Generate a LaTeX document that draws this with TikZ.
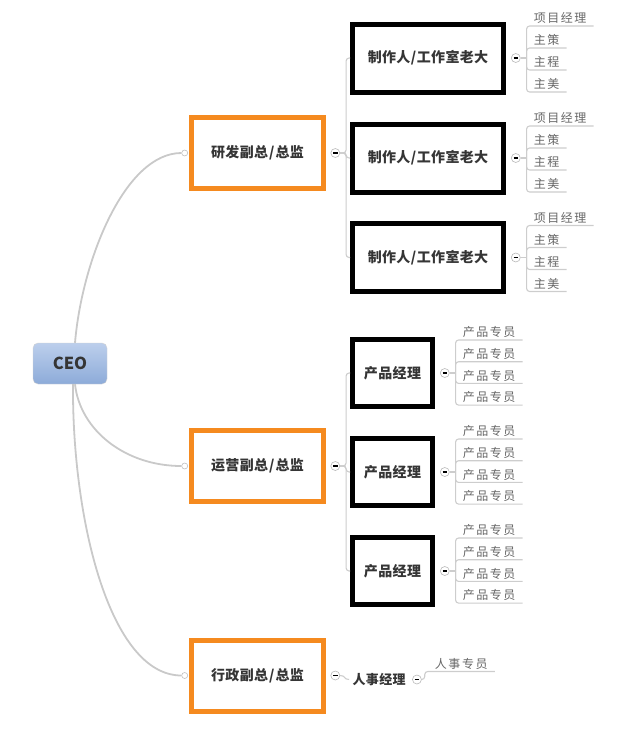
\documentclass[tikz,border=0pt]{standalone}
\usepackage{fontspec}
\setmainfont{Noto Sans CJK SC}
\newfontfamily\boxfont{Noto Sans CJK SC}[LetterSpace=2.5]
\newfontfamily\leaffont{Noto Sans CJK SC}[LetterSpace=13]
\usetikzlibrary{positioning,calc}

\definecolor{vporange}{HTML}{F58A1F}
\definecolor{wiregray}{HTML}{C9C9C9}
\definecolor{twiggray}{HTML}{CDCDCD}
\definecolor{ceotop}{HTML}{BCCFEC}
\definecolor{ceobot}{HTML}{8DABD9}
\definecolor{inkgray}{HTML}{353535}
\definecolor{leafgray}{HTML}{666666}

\begin{document}
\begin{tikzpicture}[
  x=1pt, y=1pt,
  every node/.style={text=inkgray},
  ceo/.style={draw=gray!35, rounded corners=5pt, top color=ceotop,
    bottom color=ceobot, minimum width=74pt, minimum height=41pt,
    font=\fontsize{16.5}{18}\selectfont\bfseries},
  vpbox/.style={draw=vporange, line width=5pt, minimum width=132pt,
    minimum height=71pt, font=\boxfont\fontsize{14}{16}\selectfont\bfseries},
  leadbox/.style={draw=black, line width=5pt, minimum width=151pt,
    minimum height=68pt, font=\boxfont\fontsize{14}{16}\selectfont\bfseries},
  pmbox/.style={leadbox, minimum width=80pt, minimum height=67pt},
  hrname/.style={font=\boxfont\fontsize{13}{15}\selectfont\bfseries},
  fold/.style={circle, draw=gray!55, fill=white, line width=0.6pt,
    minimum size=9pt, inner sep=0pt,
    path picture={\draw[black, line width=1.1pt]
      ([xshift=-2.3pt]path picture bounding box.center) --
      ([xshift=2.3pt]path picture bounding box.center);}},
  knob/.style={circle, draw=gray!50, fill=white, line width=0.6pt,
    minimum size=6pt, inner sep=0pt},
  leaf/.style={anchor=south west, inner xsep=7pt, inner ysep=2pt,
    text=leafgray, font=\leaffont\fontsize{12}{14}\selectfont},
  wire/.style={draw=wiregray, line width=1.8pt},
  twig/.style={draw=twiggray, line width=1.1pt, rounded corners=3pt}
]
\useasboundingbox (0,0) rectangle (633,-729);

% ============================================================
% CEO and the three vice presidents
% ============================================================
\node[ceo] (ceo) at (70,-363.5) {CEO};

\node[vpbox] (rd) at (257.5,-153) {研发副总\kern1pt/\kern1pt总监};
\node[vpbox] (op) at (257.5,-466) {运营副总\kern1pt/\kern1pt总监};
\node[vpbox] (ad) at (257.5,-675.5) {行政副总\kern1pt/\kern1pt总监};

\foreach \v in {rd,op,ad} {
  \node[knob, left=1pt of \v.west] (\v-in) {};
  \node[fold, right=4.5pt of \v.east] (\v-fold) {};
}

\draw[wire] ([xshift=5pt]ceo.north) .. controls (82,-260) and (125,-153) .. (rd-in.west);
\draw[wire] ([xshift=5pt]ceo.south) .. controls (80,-430) and (125,-466) .. (op-in.west);
\draw[wire] ([xshift=3pt]ceo.south) .. controls (72,-520) and (110,-675.5) .. (ad-in.west);

% ============================================================
% R&D: studio heads
% ============================================================
\foreach \n/\y in {1/-58,2/-158,3/-257.5} {
  \node[leadbox] (lead\n) at (428,\y) {制作人\kern0.5pt/\kern0.5pt工作室老大};
  \node[fold, right=5pt of lead\n.east] (lead\n-fold) {};
  \draw[twig] (rd-fold.east) -- ++(6,0) |- (lead\n.west);
  \coordinate (lead\n-stem) at ([xshift=6pt]lead\n-fold.east);
  \draw[twig] (lead\n-fold.east) -- (lead\n-stem);
  \foreach \t [count=\k] in {项目经理,主策,主程,主美} {
    \node[leaf] (lead\n-leaf\k) at ($(lead\n-stem)+(0,54-22*\k)$) {\t};
    \draw[twig] (lead\n-stem) |- (lead\n-leaf\k.south east);
  }
}

% ============================================================
% Operations: product managers
% ============================================================
\foreach \n/\y in {1/-373,2/-472,3/-571} {
  \node[pmbox] (pm\n) at (392.5,\y) {产品经理};
  \node[fold, right=5pt of pm\n.east] (pm\n-fold) {};
  \draw[twig] (op-fold.east) -- ++(6,0) |- (pm\n.west);
  \coordinate (pm\n-stem) at ([xshift=6pt]pm\n-fold.east);
  \draw[twig] (pm\n-fold.east) -- (pm\n-stem);
  \foreach \k in {1,...,4} {
    \node[leaf] (pm\n-leaf\k) at ($(pm\n-stem)+(0,54.7-21.7*\k)$) {产品专员};
    \draw[twig] (pm\n-stem) |- (pm\n-leaf\k.south east);
  }
}

% ============================================================
% Administration: HR
% ============================================================
\node[hrname, right=9pt of ad-fold, yshift=-4pt] (hr) {人事经理};
\node[fold, right=3pt of hr] (hr-fold) {};
\draw[twig] (ad-fold.east) .. controls +(6,0) and +(-6,0) .. (hr.west);
\coordinate (hr-stem) at ([xshift=6pt,yshift=8pt]hr-fold.east);
\node[leaf] (hr-leaf) at (hr-stem) {人事专员};
\draw[twig] (hr-fold.east) -- ++(3,0) |- (hr-leaf.south east);

\end{tikzpicture}
\end{document}
